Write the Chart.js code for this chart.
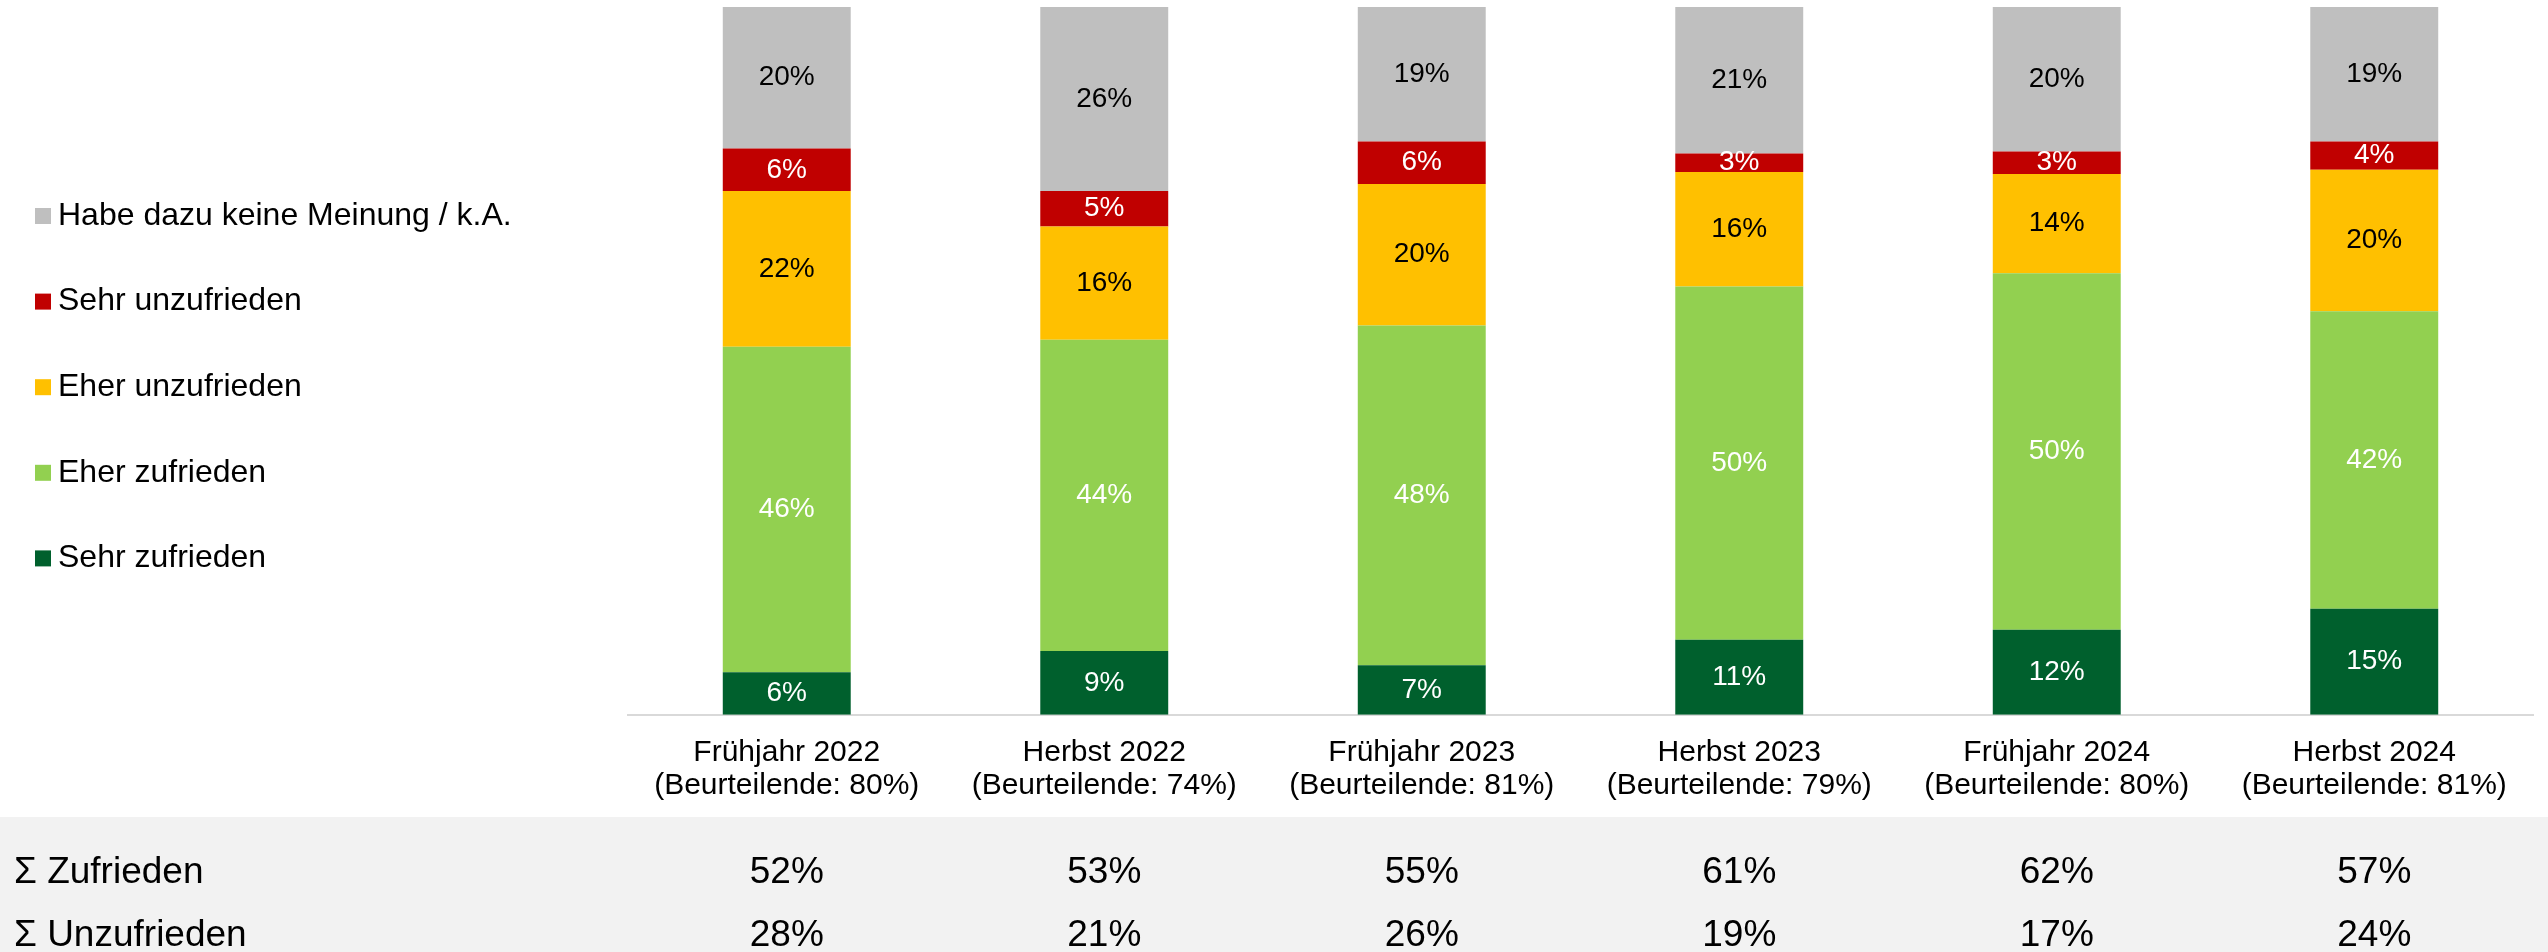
<!DOCTYPE html>
<html lang="de">
<head>
<meta charset="utf-8">
<script src="https://cdn.jsdelivr.net/npm/chart.js@4.4.1/dist/chart.umd.min.js"></script>
<style>
  html, body { margin: 0; padding: 0; background: #fff; }
  canvas { display: block; }
</style>
</head>
<body>
<canvas id="zufriedenheit" width="2548" height="952"></canvas>
<script>
// Zufriedenheit je Befragungswelle (Anteile in %)
const categories = ["Frühjahr 2022", "Herbst 2022", "Frühjahr 2023", "Herbst 2023", "Frühjahr 2024", "Herbst 2024"];
const beurteilende = ["80%", "74%", "81%", "79%", "80%", "81%"];

const sehrZufrieden    = [6, 9, 7, 10.6, 12.0, 15];
const eherZufrieden    = [46, 44, 48, 49.9, 50.4, 42];
const eherUnzufrieden  = [22, 16, 20, 16.2, 14.0, 20];
const sehrUnzufrieden  = [6, 5, 6, 2.6, 3.2, 4];
const keineMeinung     = [20, 26, 19, 20.7, 20.4, 19];

const summeZufrieden   = [52, 53, 55, 61, 62, 57];
const summeUnzufrieden = [28, 21, 26, 19, 17, 24];

const FONT = "'Liberation Sans', Arial, sans-serif";

// grauer Streifen unten
const bandPlugin = {
    id: "band",
    beforeDraw(chart) {
        const ctx = chart.ctx;
        ctx.save();
        ctx.fillStyle = "#ffffff";
        ctx.fillRect(0, 0, chart.width, chart.height);
        ctx.fillStyle = "#f2f2f2";
        ctx.fillRect(0, 817, chart.width, chart.height - 817);
        ctx.restore();
    }
};

// Prozentwerte in den Balken
const valueLabels = {
    id: "valueLabels",
    afterDatasetsDraw(chart) {
        const ctx = chart.ctx;
        ctx.save();
        ctx.font = "28px " + FONT;
        ctx.textAlign = "center";
        ctx.textBaseline = "middle";
        chart.data.datasets.forEach((ds, i) => {
            const meta = chart.getDatasetMeta(i);
            ctx.fillStyle = ds.labelColor;
            meta.data.forEach((bar, j) => {
                const v = ds.data[j];
                ctx.fillText(Math.round(v) + "%", bar.x, (bar.y + bar.base) / 2);
            });
        });
        ctx.restore();
    }
};

// Legende links (oberste Kategorie zuerst)
const sideLegend = {
    id: "sideLegend",
    afterDraw(chart) {
        const ctx = chart.ctx;
        ctx.save();
        ctx.font = "32px " + FONT;
        ctx.textAlign = "left";
        ctx.textBaseline = "middle";
        const items = chart.data.datasets.slice().reverse();
        items.forEach((ds, k) => {
            const y = 216 + k * 85.6;
            ctx.fillStyle = ds.backgroundColor;
            ctx.fillRect(35, y - 8, 16, 16);
            ctx.fillStyle = "#000";
            ctx.fillText(ds.label, 58, y);
        });
        ctx.restore();
    }
};

// Summenzeilen unter der Achse
const summaryRows = {
    id: "summaryRows",
    afterDraw(chart) {
        const ctx = chart.ctx;
        const x = chart.scales.x;
        const rows = [["Σ Zufrieden", summeZufrieden, 873], ["Σ Unzufrieden", summeUnzufrieden, 936]];
        ctx.save();
        ctx.font = "37px " + FONT;
        ctx.fillStyle = "#000";
        ctx.textBaseline = "middle";
        rows.forEach(([name, vals, y]) => {
            ctx.textAlign = "left";
            ctx.fillText(name, 14, y);
            ctx.textAlign = "center";
            vals.forEach((v, i) => ctx.fillText(v + "%", x.getPixelForValue(i), y));
        });
        ctx.restore();
    }
};

const chart = new Chart(document.getElementById("zufriedenheit"), {
    type: "bar",
    data: {
        labels: categories.map((c, i) => [c, "(Beurteilende: " + beurteilende[i] + ")"]),
        datasets: [
            { label: "Sehr zufrieden", data: sehrZufrieden, backgroundColor: "#00602d", labelColor: "#ffffff" },
            { label: "Eher zufrieden", data: eherZufrieden, backgroundColor: "#92d050", labelColor: "#ffffff" },
            { label: "Eher unzufrieden", data: eherUnzufrieden, backgroundColor: "#ffc000", labelColor: "#000000" },
            { label: "Sehr unzufrieden", data: sehrUnzufrieden, backgroundColor: "#c00000", labelColor: "#ffffff" },
            { label: "Habe dazu keine Meinung / k.A.", data: keineMeinung, backgroundColor: "#bfbfbf", labelColor: "#000000" }
        ]
    },
    options: {
        responsive: false,
        animation: false,
        layout: { padding: { left: 628, right: 15, top: 7, bottom: 128 } },
        datasets: {
            bar: { categoryPercentage: 1, barPercentage: 0.403, borderWidth: 0 }
        },
        plugins: {
            legend: { display: false },
            tooltip: { enabled: false }
        },
        scales: {
            x: {
                stacked: true,
                grid: { display: false, drawTicks: false },
                border: { display: true, color: "#d9d9d9", width: 2 },
                ticks: {
                    color: "#000",
                    padding: 21,
                    maxRotation: 0,
                    font: { family: FONT, size: 30, lineHeight: 1.12 }
                }
            },
            y: {
                stacked: true,
                display: false,
                min: 0,
                max: 100
            }
        }
    },
    plugins: [bandPlugin, valueLabels, sideLegend, summaryRows]
});
</script>
</body>
</html>
